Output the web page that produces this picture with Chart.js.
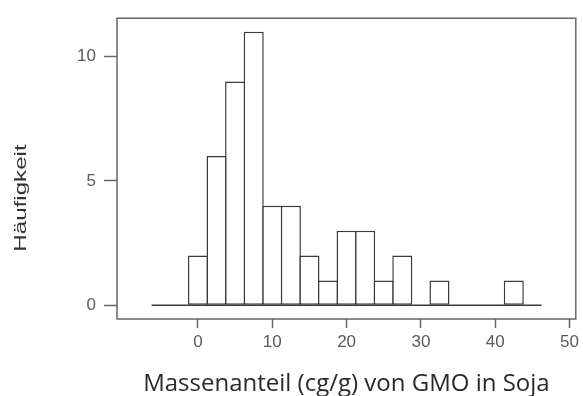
<!DOCTYPE html>
<html>
<head>
<meta charset="utf-8">
<script src="https://cdn.jsdelivr.net/npm/chart.js@4"></script>
<style>
  html, body { margin: 0; padding: 0; background: #fff; }
  canvas { display: block; }
</style>
</head>
<body>
<canvas id="myChart" width="583" height="396"></canvas>
<script>
// Klassenmitten (Bin-Breite 2,5) und Häufigkeiten
const binMitten = [0, 2.5, 5, 7.5, 10, 12.5, 15, 17.5, 20, 22.5, 25, 27.5, 30, 32.5, 35, 37.5, 40, 42.5];
const haeufigkeit = [2, 6, 9, 11, 4, 4, 2, 1, 3, 3, 1, 2, 0, 1, 0, 0, 0, 1];
const xTicks = [0, 10, 20, 30, 40, 50];
const yTicks = [0, 5, 10];
const grundlinie = [-6.25, 46.25];
const yTitel = 'Häufigkeit';

const linienFarbe = '#3a3a3a';
const achsenFarbe = '#666666';
const tickFarbe = '#5a5a5a';

// Rahmen um die Plotfläche + gestreckter y-Titel wie im Original
const rahmenPlugin = {
    id: 'rahmen',
    afterDraw(chart) {
        const { ctx, chartArea: a } = chart;
        ctx.save();
        ctx.strokeStyle = achsenFarbe;
        ctx.lineWidth = 1.5;
        ctx.strokeRect(a.left, a.top, a.right - a.left, a.bottom - a.top);

        ctx.translate(21, 198);
        ctx.rotate(-Math.PI / 2);
        ctx.scale(1.42, 1);
        ctx.fillStyle = '#333333';
        ctx.font = '17px "Liberation Sans"';
        ctx.textAlign = 'center';
        ctx.textBaseline = 'middle';
        ctx.fillText(yTitel, 0, 0);
        ctx.restore();
    }
};

const ctx = document.getElementById('myChart').getContext('2d');
const myChart = new Chart(ctx, {
    type: 'bar',
    data: {
        datasets: [
            {
                type: 'bar',
                data: binMitten.map((x, i) => ({ x: x, y: haeufigkeit[i] })),
                backgroundColor: '#ffffff',
                borderColor: linienFarbe,
                borderWidth: 1.5,
                borderSkipped: false,
                barPercentage: 1.08,
                categoryPercentage: 1,
                order: 2
            },
            {
                type: 'line',
                data: grundlinie.map(x => ({ x: x, y: 0 })),
                borderColor: linienFarbe,
                borderWidth: 1.5,
                pointRadius: 0,
                fill: false,
                order: 1
            }
        ]
    },
    options: {
        responsive: false,
        animation: false,
        layout: { padding: { top: 13, right: 5, left: 0, bottom: 0 } },
        plugins: {
            legend: { display: false },
            tooltip: { enabled: false }
        },
        scales: {
            x: {
                type: 'linear',
                min: -10.9,
                max: 50.85,
                offset: false,
                afterBuildTicks: s => { s.ticks = xTicks.map(v => ({ value: v })); },
                afterFit: s => { s.height = 77; },
                grid: {
                    offset: false,
                    drawOnChartArea: false,
                    drawTicks: true,
                    tickLength: 9,
                    tickColor: achsenFarbe,
                    tickWidth: 1.5
                },
                border: { display: false },
                ticks: {
                    color: tickFarbe,
                    font: { family: 'Liberation Sans', size: 17 },
                    padding: 4,
                    maxRotation: 0
                },
                title: {
                    display: true,
                    text: 'Massenanteil (cg/g) von GMO in Soja',
                    color: '#2a2a2a',
                    font: { family: 'Open Sans', size: 24, lineHeight: 1 },
                    padding: { top: 0, bottom: 0 }
                }
            },
            y: {
                min: -0.55,
                max: 11.54,
                afterBuildTicks: s => { s.ticks = yTicks.map(v => ({ value: v })); },
                afterFit: s => { s.width = 117; },
                grid: {
                    drawOnChartArea: false,
                    drawTicks: true,
                    tickLength: 13,
                    tickColor: achsenFarbe,
                    tickWidth: 1.5
                },
                border: { display: false },
                ticks: {
                    color: tickFarbe,
                    font: { family: 'Liberation Sans', size: 17 },
                    padding: 8
                },
                title: { display: false }
            }
        }
    },
    plugins: [rahmenPlugin]
});
</script>
</body>
</html>
